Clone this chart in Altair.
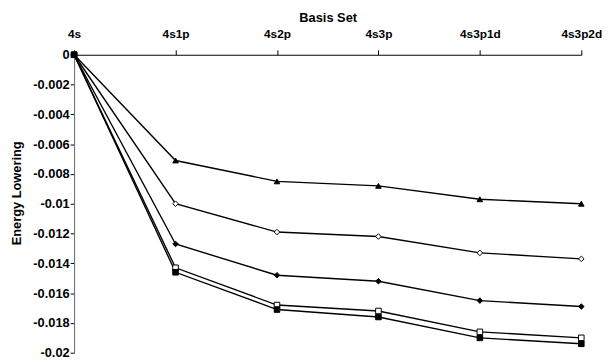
import altair as alt
import pandas as pd

categories = ["4s", "4s1p", "4s2p", "4s3p", "4s3p1d", "4s3p2d"]
series_names = ["s1", "s2", "s3", "s4", "s5"]
triangle = [0, -0.0071, -0.0085, -0.0088, -0.0097, -0.0100]
open_diamond = [0, -0.0100, -0.0119, -0.0122, -0.0133, -0.0137]
filled_diamond = [0, -0.0127, -0.0148, -0.0152, -0.0165, -0.0169]
open_square = [0, -0.0143, -0.0168, -0.0172, -0.0186, -0.0190]
filled_square = [0, -0.0146, -0.0171, -0.0176, -0.0190, -0.0194]
shapes = ["triangle-up", "diamond", "diamond", "square", "square"]
fills = ["black", "white", "black", "white", "black"]
y_ticks = [0, -0.002, -0.004, -0.006, -0.008, -0.01, -0.012, -0.014, -0.016, -0.018, -0.02]

all_series = [triangle, open_diamond, filled_diamond, open_square, filled_square]
rows = []
for name, vals in zip(series_names, all_series):
    for c, v in zip(categories, vals):
        rows.append({"basis": c, "energy": v, "series": name})
df = pd.DataFrame(rows)

x = alt.X("basis:N", sort=categories,
          scale=alt.Scale(type="point", padding=0),
          axis=alt.Axis(orient="top", title="Basis Set", labelAngle=0,
                        labelFont="Liberation Sans", labelFontWeight="bold", labelFontSize=12,
                        titleFont="Liberation Sans", titleFontWeight="bold", titleFontSize=13,
                        labelPadding=9, tickSize=5, titlePadding=4,
                        domainColor="black", tickColor="black", labelColor="black", titleColor="black"))
y = alt.Y("energy:Q",
          scale=alt.Scale(domain=[-0.02, 0], nice=False, zero=False),
          axis=alt.Axis(title="Energy Lowering", values=y_ticks,
                        labelExpr="datum.value == 0 ? '0' : '-' + format(-datum.value, '~g')",
                        labelFont="Liberation Sans", labelFontWeight="bold", labelFontSize=13,
                        titleFont="Liberation Sans", titleFontWeight="bold", titleFontSize=13,
                        labelPadding=1, tickSize=4, titlePadding=9, titleY=140,
                        domainColor="#666", tickColor="black", labelColor="black", titleColor="black"))

base = alt.Chart(df)
lines = base.mark_line(color="black", strokeWidth=1.4).encode(x=x, y=y, detail="series:N")
points = base.mark_point(filled=False, stroke="black", strokeWidth=1, opacity=1).encode(
    x=x, y=y,
    shape=alt.Shape("series:N", scale=alt.Scale(domain=series_names, range=shapes), legend=None),
    fill=alt.Fill("series:N", scale=alt.Scale(domain=series_names, range=fills), legend=None),
    size=alt.value(32),
)

chart = alt.layer(lines, points).properties(
    width=514, height=302,
    autosize=alt.AutoSizeParams(type="none"),
    padding={"left": 67, "top": 45, "right": 22, "bottom": 6},
    background="white",
).configure_view(stroke=None).configure_axis(grid=False)

chart.save("out.html", embed_options={"renderer": "svg", "actions": False})
